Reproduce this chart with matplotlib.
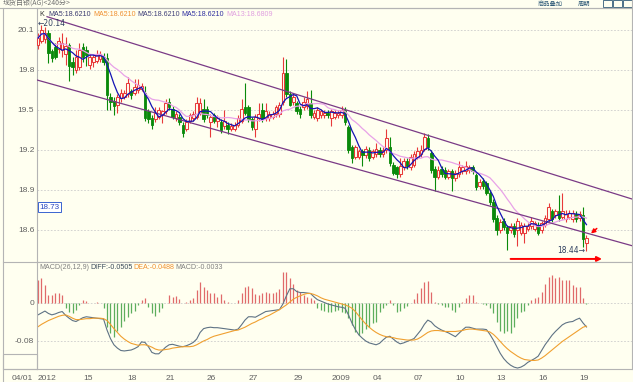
import numpy as np
import pandas as pd
import matplotlib
matplotlib.use("Agg")
import matplotlib.pyplot as plt
from matplotlib.lines import Line2D
from matplotlib.patches import Rectangle

# 240-minute candles
open_ = [19.99, 20.02, 20.03, 20.08, 19.94, 19.97, 19.96, 19.95, 19.92, 19.99,
         19.86, 19.80, 19.82, 19.97, 19.95, 19.84, 19.86, 19.87, 19.88, 19.90,
         19.89, 19.60, 19.57, 19.54, 19.59, 19.60, 19.62, 19.64, 19.63, 19.65,
         19.66, 19.63, 19.49, 19.44, 19.43, 19.45, 19.46, 19.49, 19.56, 19.51,
         19.44, 19.45, 19.39, 19.36, 19.42, 19.44, 19.45, 19.48, 19.51, 19.51,
         19.41, 19.46, 19.42, 19.41, 19.38, 19.39, 19.36, 19.36, 19.39, 19.42,
         19.52, 19.52, 19.43, 19.36, 19.44, 19.50, 19.44, 19.44, 19.45, 19.47,
         19.47, 19.56, 19.78, 19.62, 19.56, 19.55, 19.51, 19.52, 19.53, 19.55,
         19.45, 19.44, 19.46, 19.46, 19.48, 19.44, 19.45, 19.46, 19.46, 19.50,
         19.37, 19.22, 19.15, 19.15, 19.19, 19.16, 19.20, 19.15, 19.17, 19.20,
         19.17, 19.20, 19.22, 19.09, 19.07, 19.02, 19.07, 19.12, 19.07, 19.09,
         19.15, 19.17, 19.21, 19.29, 19.18, 19.06, 19.00, 19.06, 19.05, 19.00,
         19.04, 18.99, 19.02, 19.04, 19.04, 19.05, 19.07, 19.01, 18.93, 18.97,
         18.95, 18.88, 18.81, 18.69, 18.60, 18.67, 18.62, 18.60, 18.63, 18.60,
         18.58, 18.58, 18.61, 18.63, 18.61, 18.64, 18.60, 18.64, 18.68, 18.74,
         18.71, 18.74, 18.70, 18.68, 18.70, 18.68, 18.72, 18.69, 18.71, 18.50]
close = [20.04, 20.10, 20.08, 19.93, 19.89, 19.90, 20.02, 20.00, 19.98, 19.83,
         19.82, 19.90, 19.95, 19.90, 19.91, 19.90, 19.90, 19.91, 19.92, 19.86,
         19.61, 19.56, 19.53, 19.60, 19.63, 19.63, 19.70, 19.61, 19.67, 19.69,
         19.68, 19.44, 19.43, 19.39, 19.48, 19.50, 19.49, 19.55, 19.52, 19.45,
         19.47, 19.41, 19.33, 19.41, 19.46, 19.47, 19.55, 19.55, 19.43, 19.46,
         19.45, 19.42, 19.44, 19.35, 19.42, 19.36, 19.38, 19.39, 19.44, 19.51,
         19.48, 19.43, 19.37, 19.45, 19.47, 19.43, 19.49, 19.47, 19.47, 19.52,
         19.54, 19.78, 19.62, 19.54, 19.60, 19.49, 19.47, 19.56, 19.58, 19.46,
         19.48, 19.50, 19.49, 19.48, 19.46, 19.49, 19.48, 19.48, 19.50, 19.41,
         19.20, 19.14, 19.22, 19.19, 19.16, 19.21, 19.14, 19.19, 19.21, 19.17,
         19.20, 19.29, 19.10, 19.03, 19.02, 19.08, 19.12, 19.08, 19.15, 19.17,
         19.19, 19.20, 19.30, 19.22, 19.05, 19.00, 19.05, 19.02, 19.00, 19.04,
         18.99, 19.03, 19.07, 19.07, 19.08, 19.07, 19.04, 18.92, 18.96, 18.93,
         18.88, 18.81, 18.68, 18.60, 18.66, 18.62, 18.58, 18.63, 18.57, 18.67,
         18.64, 18.63, 18.63, 18.67, 18.65, 18.58, 18.65, 18.69, 18.77, 18.68,
         18.74, 18.69, 18.74, 18.72, 18.73, 18.73, 18.68, 18.72, 18.53, 18.54]
high = [20.08, 20.14, 20.12, 20.10, 19.96, 20.00, 20.05, 20.08, 20.05, 20.00,
        19.90, 19.95, 20.00, 20.00, 19.98, 19.92, 19.92, 19.95, 19.94, 19.93,
        19.93, 19.63, 19.60, 19.62, 19.66, 19.65, 19.75, 19.66, 19.73, 19.73,
        19.70, 19.68, 19.51, 19.46, 19.52, 19.52, 19.50, 19.58, 19.59, 19.53,
        19.49, 19.47, 19.41, 19.43, 19.48, 19.49, 19.60, 19.59, 19.58, 19.53,
        19.47, 19.48, 19.46, 19.43, 19.50, 19.41, 19.40, 19.41, 19.46, 19.58,
        19.70, 19.54, 19.45, 19.47, 19.55, 19.55, 19.55, 19.49, 19.49, 19.54,
        19.56, 19.90, 19.88, 19.64, 19.62, 19.57, 19.53, 19.60, 19.64, 19.65,
        19.50, 19.52, 19.51, 19.50, 19.50, 19.51, 19.50, 19.50, 19.53, 19.52,
        19.39, 19.24, 19.24, 19.21, 19.21, 19.23, 19.22, 19.21, 19.25, 19.22,
        19.22, 19.36, 19.30, 19.11, 19.08, 19.14, 19.14, 19.14, 19.17, 19.19,
        19.22, 19.24, 19.33, 19.32, 19.20, 19.08, 19.08, 19.08, 19.07, 19.06,
        19.06, 19.05, 19.12, 19.09, 19.12, 19.09, 19.09, 19.03, 18.98, 18.99,
        18.97, 18.90, 18.83, 18.71, 18.68, 18.69, 18.64, 18.65, 18.65, 18.69,
        18.66, 18.65, 18.65, 18.70, 18.67, 18.66, 18.67, 18.71, 18.80, 18.76,
        18.76, 18.86, 18.88, 18.75, 18.75, 18.75, 18.74, 18.74, 18.77, 18.56]
low = [19.96, 20.00, 20.00, 19.85, 19.86, 19.88, 19.93, 19.90, 19.84, 19.72,
       19.76, 19.78, 19.80, 19.86, 19.83, 19.81, 19.82, 19.85, 19.86, 19.84,
       19.50, 19.50, 19.46, 19.48, 19.56, 19.58, 19.60, 19.58, 19.61, 19.63,
       19.64, 19.42, 19.40, 19.36, 19.41, 19.43, 19.40, 19.47, 19.50, 19.43,
       19.42, 19.39, 19.30, 19.34, 19.40, 19.42, 19.43, 19.46, 19.41, 19.44,
       19.30, 19.40, 19.37, 19.33, 19.36, 19.32, 19.34, 19.34, 19.37, 19.40,
       19.46, 19.41, 19.35, 19.30, 19.42, 19.41, 19.42, 19.42, 19.43, 19.45,
       19.45, 19.54, 19.60, 19.53, 19.54, 19.47, 19.44, 19.50, 19.51, 19.44,
       19.43, 19.42, 19.44, 19.44, 19.44, 19.38, 19.43, 19.44, 19.44, 19.39,
       19.18, 19.10, 19.13, 19.13, 19.08, 19.14, 19.12, 19.13, 19.15, 19.15,
       19.15, 19.18, 19.08, 19.01, 18.99, 19.00, 19.05, 19.06, 19.05, 19.07,
       19.13, 19.15, 19.19, 19.20, 19.03, 18.89, 18.98, 19.00, 18.98, 18.98,
       18.89, 18.97, 19.00, 19.02, 19.02, 19.03, 19.02, 18.90, 18.91, 18.91,
       18.86, 18.79, 18.66, 18.56, 18.58, 18.60, 18.45, 18.58, 18.55, 18.48,
       18.56, 18.50, 18.59, 18.61, 18.59, 18.56, 18.58, 18.62, 18.66, 18.66,
       18.69, 18.67, 18.68, 18.66, 18.68, 18.66, 18.66, 18.67, 18.47, 18.44]

# MACD(26,12,9) lines and bars
diff = [-0.025, -0.021, -0.017, -0.022, -0.025, -0.023, -0.020, -0.018, -0.026, -0.032,
        -0.037, -0.039, -0.035, -0.031, -0.029, -0.030, -0.031, -0.032, -0.033, -0.034,
        -0.057, -0.075, -0.088, -0.095, -0.100, -0.101, -0.100, -0.099, -0.096, -0.092,
        -0.082, -0.083, -0.092, -0.104, -0.107, -0.107, -0.100, -0.093, -0.088, -0.087,
        -0.089, -0.091, -0.092, -0.090, -0.087, -0.083, -0.076, -0.062, -0.054, -0.052,
        -0.051, -0.052, -0.052, -0.053, -0.054, -0.055, -0.056, -0.057, -0.055, -0.046,
        -0.036, -0.029, -0.029, -0.030, -0.026, -0.022, -0.018, -0.017, -0.016, -0.015,
        -0.014, -0.002, 0.015, 0.030, 0.030, 0.024, 0.022, 0.022, 0.021, 0.020,
        0.013, 0.007, 0.004, 0.001, -0.002, -0.004, -0.006, -0.008, -0.009, -0.011,
        -0.025, -0.042, -0.056, -0.067, -0.074, -0.080, -0.084, -0.086, -0.088, -0.085,
        -0.078, -0.072, -0.070, -0.076, -0.082, -0.086, -0.084, -0.081, -0.078, -0.075,
        -0.066, -0.057, -0.045, -0.036, -0.040, -0.048, -0.053, -0.057, -0.060, -0.063,
        -0.067, -0.071, -0.064, -0.057, -0.051, -0.051, -0.053, -0.055, -0.055, -0.055,
        -0.056, -0.066, -0.078, -0.092, -0.106, -0.117, -0.125, -0.131, -0.135, -0.137,
        -0.135, -0.131, -0.125, -0.121, -0.117, -0.112, -0.100, -0.088, -0.078, -0.068,
        -0.060, -0.053, -0.046, -0.042, -0.040, -0.039, -0.035, -0.032, -0.042, -0.0505]
dea = [-0.050, -0.045, -0.041, -0.037, -0.034, -0.031, -0.028, -0.026, -0.025, -0.028,
       -0.032, -0.035, -0.035, -0.034, -0.033, -0.033, -0.032, -0.032, -0.032, -0.033,
       -0.037, -0.045, -0.054, -0.062, -0.070, -0.076, -0.081, -0.085, -0.087, -0.089,
       -0.088, -0.088, -0.090, -0.093, -0.097, -0.099, -0.099, -0.098, -0.097, -0.095,
       -0.094, -0.093, -0.092, -0.092, -0.092, -0.091, -0.088, -0.084, -0.080, -0.077,
       -0.073, -0.070, -0.068, -0.066, -0.064, -0.062, -0.060, -0.058, -0.057, -0.054,
       -0.051, -0.047, -0.043, -0.040, -0.036, -0.033, -0.029, -0.026, -0.022, -0.018,
       -0.014, -0.009, -0.004, 0.002, 0.008, 0.012, 0.015, 0.018, 0.020, 0.020,
       0.018, 0.015, 0.011, 0.008, 0.006, 0.004, 0.002, 0.000, -0.002, -0.004,
       -0.007, -0.011, -0.018, -0.027, -0.036, -0.044, -0.051, -0.057, -0.062, -0.066,
       -0.069, -0.071, -0.072, -0.073, -0.075, -0.076, -0.077, -0.078, -0.078, -0.078,
       -0.076, -0.072, -0.067, -0.062, -0.059, -0.058, -0.058, -0.059, -0.060, -0.060,
       -0.060, -0.060, -0.059, -0.058, -0.056, -0.055, -0.055, -0.056, -0.057, -0.058,
       -0.059, -0.061, -0.066, -0.073, -0.081, -0.089, -0.096, -0.102, -0.107, -0.112,
       -0.116, -0.119, -0.120, -0.121, -0.121, -0.120, -0.116, -0.111, -0.105, -0.099,
       -0.093, -0.087, -0.081, -0.076, -0.071, -0.066, -0.061, -0.056, -0.051, -0.0488]
macd_bar = [0.048, 0.052, 0.038, 0.017, 0.017, 0.020, 0.020, 0.017, -0.011, -0.018,
            -0.022, -0.015, -0.004, 0.006, 0.005, 0.001, 0.001, 0.002, 0.001, -0.011,
            -0.050, -0.064, -0.071, -0.060, -0.050, -0.037, -0.029, -0.022, -0.016, -0.004,
            0.006, 0.010, -0.008, -0.022, -0.027, -0.018, -0.011, 0.001, 0.017, 0.013,
            0.015, 0.008, -0.001, 0.003, 0.006, 0.010, 0.027, 0.045, 0.034, 0.027,
            0.020, 0.020, 0.013, 0.019, 0.006, 0.003, 0.001, 0.001, 0.006, 0.020,
            0.033, 0.036, 0.031, 0.019, 0.017, 0.020, 0.024, 0.022, 0.020, 0.024,
            0.029, 0.066, 0.066, 0.052, 0.041, 0.027, 0.024, 0.017, 0.013, 0.010,
            0.006, -0.011, -0.015, -0.016, -0.018, -0.018, -0.017, -0.015, -0.018, -0.022,
            -0.032, -0.046, -0.062, -0.067, -0.064, -0.055, -0.050, -0.043, -0.039, -0.020,
            -0.011, -0.004, 0.006, -0.004, -0.018, -0.016, -0.011, -0.006, -0.001, 0.008,
            0.020, 0.031, 0.045, 0.047, 0.024, 0.003, -0.003, -0.004, -0.008, -0.009,
            -0.015, -0.018, -0.008, 0.003, 0.010, 0.017, 0.017, 0.003, -0.001, -0.002,
            -0.004, -0.011, -0.022, -0.039, -0.060, -0.064, -0.060, -0.064, -0.050, -0.032,
            -0.018, -0.016, -0.004, 0.006, 0.010, 0.013, 0.024, 0.041, 0.054, 0.059,
            0.052, 0.055, 0.048, 0.048, 0.048, 0.038, 0.034, 0.034, 0.010, -0.002]

# trend channel drawn on the chart (candle index, price)
chan_up_x = [2.6, 172.5]
chan_up_y = [20.20, 18.83]
chan_lo_x = [-0.3, 172.5]
chan_lo_y = [19.725, 18.48]

price_ticks = [20.1, 19.8, 19.5, 19.2, 18.9, 18.6]
macd_ticks = [0, -0.08]
date_idx = [0, 13, 26, 37, 49, 61, 74, 85, 97, 109, 121, 133, 145, 157]
date_lbl = ["2012", "15", "18", "21", "26", "27", "29", "2009", "04", "07", "10", "13", "16", "19"]

BG = "#FFFFF0"
RED = "#E83A3A"
GREEN = "#0A8A0A"
LINE = "#B4B4B4"
NUM = "Liberation Sans"

W, H = 633, 382
def fx(x):
    return x / W
def fy(y):
    return 1 - y / H

o = np.array(open_); c = np.array(close); hi = np.array(high); lo = np.array(low)
idx = np.arange(len(c))
up = c >= o
ma5 = pd.Series(c).rolling(5, min_periods=1).mean()
ma13 = pd.Series(c).rolling(13, min_periods=1).mean()

fig = plt.figure(figsize=(W / 100, H / 100), dpi=100, facecolor=BG)
ax = fig.add_axes([fx(37), fy(262), fx(632) - fx(37), fy(8) - fy(262)], facecolor=BG)
ax2 = fig.add_axes([fx(37), fy(369), fx(632) - fx(37), fy(262) - fy(369)], facecolor=BG, sharex=ax)

# candles
ax.vlines(idx[up], lo[up], hi[up], color=RED, lw=0.8, zorder=2)
ax.vlines(idx[~up], lo[~up], hi[~up], color=GREEN, lw=0.8, zorder=2)
ax.bar(idx[up], np.maximum(c[up] - o[up], 0.004), bottom=o[up], width=0.75,
       facecolor=BG, edgecolor=RED, linewidth=0.75, zorder=3)
ax.bar(idx[~up], np.maximum(o[~up] - c[~up], 0.004), bottom=c[~up], width=0.75,
       facecolor=GREEN, edgecolor=GREEN, linewidth=0.6, zorder=3)
ax.plot(idx, ma13, color="#E8A2E8", lw=0.9, zorder=4)
ax.plot(idx, ma5, color="#1414B4", lw=0.9, zorder=5)
ax.plot(chan_up_x, chan_up_y, color="#7A3A86", lw=0.9, zorder=4)
ax.plot(chan_lo_x, chan_lo_y, color="#7A3A86", lw=0.9, zorder=4)

ax.set_xlim(-0.3, 172.2)
ax.set_ylim(18.36, 20.265)
ax.set_yticks(price_ticks)
ax.set_yticklabels([f"{t:.1f}" for t in price_ticks], fontfamily=NUM)
ax.grid(axis="y", color="#CCCCCC", linestyle=(0, (2, 2)), lw=0.6)
ax.tick_params(axis="y", length=0, labelsize=6, labelcolor="#606060", pad=2)
ax.tick_params(axis="x", length=0, labelbottom=False)

# highest / lowest marks
ih = int(np.argmax(hi)); il = int(np.argmin(lo))
ax.text(ih - 1.0, hi[ih] + 0.012, "\u2190" + f"{hi[ih]:.2f}", fontsize=5.5, color="#304060",
        fontfamily=["DejaVu Sans"], va="center", ha="left", zorder=6)
ax.text(il - 0.3, lo[il] + 0.005, f"{lo[il]:.2f}" + "\u2192", fontsize=5.5, color="#304060",
        fontfamily=["DejaVu Sans"], va="center", ha="right", zorder=6)
ax.annotate("", xy=(164.3, 18.383), xytext=(136.2, 18.383), annotation_clip=False,
            arrowprops=dict(arrowstyle="-|>", color="red", lw=1.4, mutation_scale=7))
ax.annotate("", xy=(159.7, 18.56), xytext=(162.6, 18.625), annotation_clip=False,
            arrowprops=dict(arrowstyle="-|>", color="red", lw=1.1, mutation_scale=6))

# MACD panel
pos = np.array(macd_bar) >= 0
ax2.vlines(idx[pos], 0, np.array(macd_bar)[pos], color="#E06A6A", lw=0.9)
ax2.vlines(idx[~pos], 0, np.array(macd_bar)[~pos], color="#5DAE5D", lw=0.9)
ax2.plot(idx, diff, color="#5E7284", lw=0.8)
ax2.plot(idx, dea, color="#F0A030", lw=0.8)
ax2.set_ylim(-0.139, 0.0863)
ax2.set_yticks(macd_ticks)
ax2.set_yticklabels(["0", "-0.08"], fontfamily=NUM)
ax2.grid(axis="y", color="#CCCCCC", linestyle=(0, (2, 2)), lw=0.6)
ax2.tick_params(axis="y", length=0, labelsize=6, labelcolor="#606060", pad=2)
ax2.set_xticks(date_idx)
ax2.set_xticklabels(date_lbl, fontfamily=NUM, ha="left")
ax2.tick_params(axis="x", length=0, labelsize=6, labelcolor="#606060", pad=4)

for a in (ax, ax2):
    for s in a.spines.values():
        s.set_color(LINE)
        s.set_linewidth(0.8)

# frame lines outside the axes
for xs, ys in [((0, 633), (8, 8)), ((3, 37), (262, 262)), ((3, 37), (369, 369)),
               ((3, 3), (8, 382)), ((632, 632), (0, 8))]:
    fig.add_artist(Line2D([fx(xs[0]), fx(xs[1])], [fy(ys[0]), fy(ys[1])], color=LINE, lw=0.8))
fig.add_artist(Rectangle((fx(3), fy(369)), fx(34), fy(354) - fy(369), fill=False, ec=LINE, lw=0.8))

# header texts
fig.text(fx(3), fy(3), "现货白银(AG)<240分>", fontsize=5, color="#707070",
         fontfamily=["Noto Sans CJK SC", "DejaVu Sans"], va="center")
fig.text(fx(538), fy(3.5), "商品叠加", fontsize=4.5, color="#2F5A78",
         fontfamily=["Noto Sans CJK SC"], va="center")
fig.text(fx(578), fy(3.5), "周期", fontsize=4.5, color="#2F5A78",
         fontfamily=["Noto Sans CJK SC"], va="center")
for bx in (603, 613, 623):
    fig.add_artist(Rectangle((fx(bx), fy(7)), fx(9), fy(0.5) - fy(7), fill=False, ec="#2F5A78", lw=0.6))
fig.text(fx(33), fy(378), "04/01", fontsize=6, color="#606060", fontfamily=NUM, ha="right", va="center")

# indicator captions
for x0, txt, col in [(39, "K", "#303030"), (48, "MA5:18.6210", "#3A3A70"),
                     (93, "MA5:18.6210", "#F09030"), (137, "MA5:18.6210", "#40407A"),
                     (181, "MA5:18.6210", "#3030A0"), (226, "MA13:18.6809", "#E0A0E0")]:
    fig.text(fx(x0), fy(14.5), txt, fontsize=5.1, color=col, fontfamily=NUM, va="center")
for x0, txt, col in [(39, "MACD(26,12,9)", "#808080"), (90, "DIFF:-0.0505", "#3A4A5A"),
                     (133, "DEA:-0.0488", "#F09030"), (175, "MACD:-0.0033", "#808080")]:
    fig.text(fx(x0), fy(267.5), txt, fontsize=5.1, color=col, fontfamily=NUM, va="center")

# last price box on the price scale
fig.text(fx(39.5), fy(207), "18.73", fontsize=5.8, color="#2848C0", fontfamily=NUM, va="center",
         bbox=dict(boxstyle="square,pad=0.2", fc="white", ec="#3A64D0", lw=0.7))

fig.savefig("out.png", dpi=100, facecolor=BG)
